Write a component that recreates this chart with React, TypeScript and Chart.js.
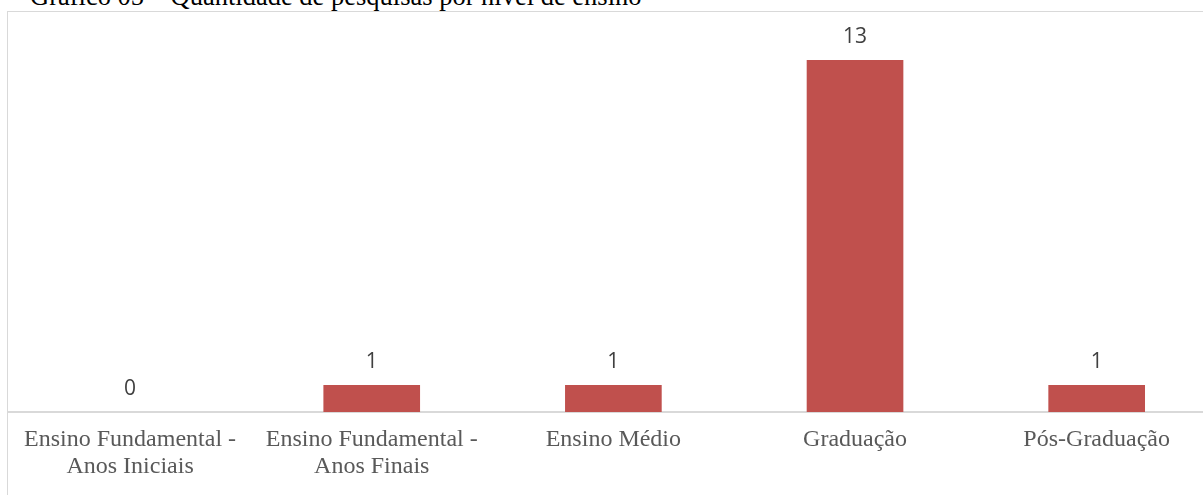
import React, { useEffect, useRef } from "react";
import { Chart, registerables } from "chart.js";

Chart.register(...registerables);

const titleText = "Gráfico 05 – Quantidade de pesquisas por nível de ensino";
const categories: string[][] = [
  ["Ensino Fundamental -", "Anos Iniciais"],
  ["Ensino Fundamental -", "Anos Finais"],
  ["Ensino Médio"],
  ["Graduação"],
  ["Pós-Graduação"],
];
const values: number[] = [0, 1, 1, 13, 1];
const yMin = 0;
const yMax = 14;

const valueLabels = {
  id: "valueLabels",
  afterDatasetsDraw(chart: any) {
    const ctx = chart.ctx;
    const meta = chart.getDatasetMeta(0);
    ctx.save();
    ctx.font = '21px "Open Sans"';
    ctx.fillStyle = "#404040";
    ctx.textAlign = "center";
    ctx.textBaseline = "alphabetic";
    meta.data.forEach((bar: any, i: number) => {
      ctx.fillText(String(values[i]), bar.x, bar.y - 17);
    });
    ctx.restore();
  },
};

export default function App() {
  const canvasRef = useRef<HTMLCanvasElement | null>(null);

  useEffect(() => {
    if (!canvasRef.current) return;
    const chart = new Chart(canvasRef.current, {
      type: "bar",
      data: {
        labels: categories,
        datasets: [
          {
            data: values,
            backgroundColor: "#C0504D",
            borderWidth: 0,
            barPercentage: 0.4,
            categoryPercentage: 1,
          },
        ],
      },
      options: {
        animation: false,
        responsive: false,
        devicePixelRatio: 1,
        layout: { padding: { left: 9.25, right: 22.5, top: 33, bottom: 1 } },
        plugins: {
          legend: { display: false },
          tooltip: { enabled: false },
          title: { display: false },
        },
        scales: {
          x: {
            offset: true,
            grid: { display: false, drawTicks: false },
            border: { display: true, color: "#d9d9d9", width: 2 },
            ticks: {
              color: "#595959",
              padding: 14,
              maxRotation: 0,
              autoSkip: false,
              font: { family: '"Liberation Serif", "Times New Roman", serif', size: 24, lineHeight: "27px" },
            },
          },
          y: {
            display: false,
            min: yMin,
            max: yMax,
          },
        },
      },
      plugins: [valueLabels],
    });
    return () => chart.destroy();
  }, []);

  return (
    <div
      style={{
        position: "absolute",
        left: 0,
        top: 0,
        width: 1203,
        height: 495,
        overflow: "hidden",
        background: "#ffffff",
      }}
    >
      <div
        style={{
          position: "absolute",
          left: 7,
          top: 11,
          width: 1400,
          height: 700,
          border: "1.5px solid #d9d9d9",
          boxSizing: "border-box",
        }}
      />
      <div
        style={{
          position: "absolute",
          left: 30,
          top: -16,
          whiteSpace: "nowrap",
          fontFamily: '"Liberation Serif", "Times New Roman", serif',
          fontSize: 26.5,
          lineHeight: "24px",
          color: "#000000",
        }}
      >
        {titleText}
      </div>
      <canvas
        ref={canvasRef}
        width={1240}
        height={495}
        style={{ position: "absolute", left: 0, top: 0, width: 1240, height: 495 }}
      />
    </div>
  );
}
